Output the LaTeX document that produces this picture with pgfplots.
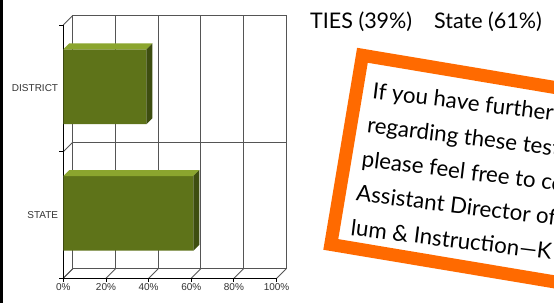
\documentclass[border=0pt]{standalone}
\usepackage{pgfplots}
\pgfplotsset{compat=1.18}
\usepackage{fontspec}
\setmainfont{Lato}
\newfontfamily\arialf{Liberation Sans}
\definecolor{barfront}{HTML}{5E7319}
\definecolor{bartop}{HTML}{8BA52E}
\definecolor{barside}{HTML}{3E4E10}
\definecolor{boxorange}{HTML}{FF6A00}
\definecolor{gridgray}{HTML}{555555}
\definecolor{labgray}{HTML}{333333}
\begin{document}
\begin{tikzpicture}[x=1pt,y=1pt]
\useasboundingbox (0,0) rectangle (554,303);
\clip (0,0) rectangle (554,303);
\fill[white] (0,0) rectangle (554,303);
\fill[black] (0,0) rectangle (3,303);
\begin{axis}[
  at={(63.3pt,24.7pt)}, anchor=south west,
  scale only axis, width=213.3pt, height=253.3pt,
  xmin=0, xmax=100, ymin=-0.5, ymax=1.5,
  xbar, bar width=74.7pt, bar shift=1.6pt,
  axis x line*=bottom, axis y line*=left,
  axis line style={draw=none},
  tick style={draw=none}, major tick length=0pt,
  xtick={0,20,40,60,80,100},
  xticklabels={0\%,20\%,40\%,60\%,80\%,100\%},
  ytick={0,1}, yticklabels={STATE,DISTRICT},
  tick label style={font=\arialf\fontsize{10}{12}\selectfont, text=labgray, inner sep=0pt},
  xticklabel style={anchor=north, yshift=-5pt},
  yticklabel style={anchor=east, xshift=-5pt},
  clip=false,
]
% back plane and floor/wall lines
\pgfplotsinvokeforeach{0,20,40,60,80,100}{
  \draw[gridgray, line width=0.9pt] ([shift={(9.5pt,9.5pt)}]axis cs:#1,-0.5) -- ([shift={(9.5pt,9.5pt)}]axis cs:#1,1.5);
  \draw[gridgray, line width=0.9pt] (axis cs:#1,-0.5) -- ([shift={(9.5pt,9.5pt)}]axis cs:#1,-0.5);
  \draw[black, line width=0.9pt] (axis cs:#1,-0.5) -- ([yshift=-4pt]axis cs:#1,-0.5);
}
\pgfplotsinvokeforeach{-0.5,0.5,1.5}{
  \draw[gridgray, line width=0.9pt] ([shift={(9.5pt,9.5pt)}]axis cs:0,#1) -- ([shift={(9.5pt,9.5pt)}]axis cs:100,#1);
  \draw[gridgray, line width=0.9pt] (axis cs:0,#1) -- ([shift={(9.5pt,9.5pt)}]axis cs:0,#1);
  \draw[black, line width=0.9pt] (axis cs:0,#1) -- ([xshift=-4pt]axis cs:0,#1);
}
\draw[black, line width=0.9pt] (axis cs:0,-0.5) -- (axis cs:0,1.5);
\draw[black, line width=0.9pt] (axis cs:0,-0.5) -- (axis cs:100,-0.5);
% bars
\addplot[fill=barfront, draw=none] coordinates {(61,0) (39,1)};
% 3D faces
\fill[bartop] ([yshift=38.95pt]axis cs:0,1) -- ([yshift=38.95pt]axis cs:39,1) -- ([shift={(6pt,44.95pt)}]axis cs:39,1) -- ([shift={(6pt,44.95pt)}]axis cs:0,1) -- cycle;
\fill[barside] ([yshift=-35.75pt]axis cs:39,1) -- ([yshift=38.95pt]axis cs:39,1) -- ([shift={(6pt,44.95pt)}]axis cs:39,1) -- ([shift={(6pt,-29.75pt)}]axis cs:39,1) -- cycle;
\fill[bartop] ([yshift=38.95pt]axis cs:0,0) -- ([yshift=38.95pt]axis cs:61,0) -- ([shift={(6pt,44.95pt)}]axis cs:61,0) -- ([shift={(6pt,44.95pt)}]axis cs:0,0) -- cycle;
\fill[barside] ([yshift=-35.75pt]axis cs:61,0) -- ([yshift=38.95pt]axis cs:61,0) -- ([shift={(6pt,44.95pt)}]axis cs:61,0) -- ([shift={(6pt,-29.75pt)}]axis cs:61,0) -- cycle;
\end{axis}
% title text
\node[anchor=base west, inner sep=0pt, font=\fontsize{21.5}{25}\selectfont] at (310,274.7) {TIES (39\%)};
\node[anchor=base west, inner sep=0pt, font=\fontsize{21.5}{25}\selectfont] at (434,274.7) {State (61\%)};
% orange box
\begin{scope}[shift={(357.1,255.2)}, rotate=-9.5]
\fill[white] (0,0) rectangle (420,-204.8);
\draw[boxorange, line width=13pt] (6.5,-6.5) rectangle (420,-198.3);
\end{scope}
\begin{scope}[every node/.style={anchor=base west, inner sep=0pt, rotate=-7, font=\fontsize{22.3}{26}\selectfont}]
\node at (371.7,204.7) {If you have further questions};
\node at (366.3,170.5) {regarding these test results,};
\node at (360.9,136.3) {please feel free to contact};
\node at (355.4,102.1) {Assistant Director of Curricu-};
\node at (350.0,68.0) {lum \& Instruction—K};
\end{scope}
\end{tikzpicture}
\end{document}
